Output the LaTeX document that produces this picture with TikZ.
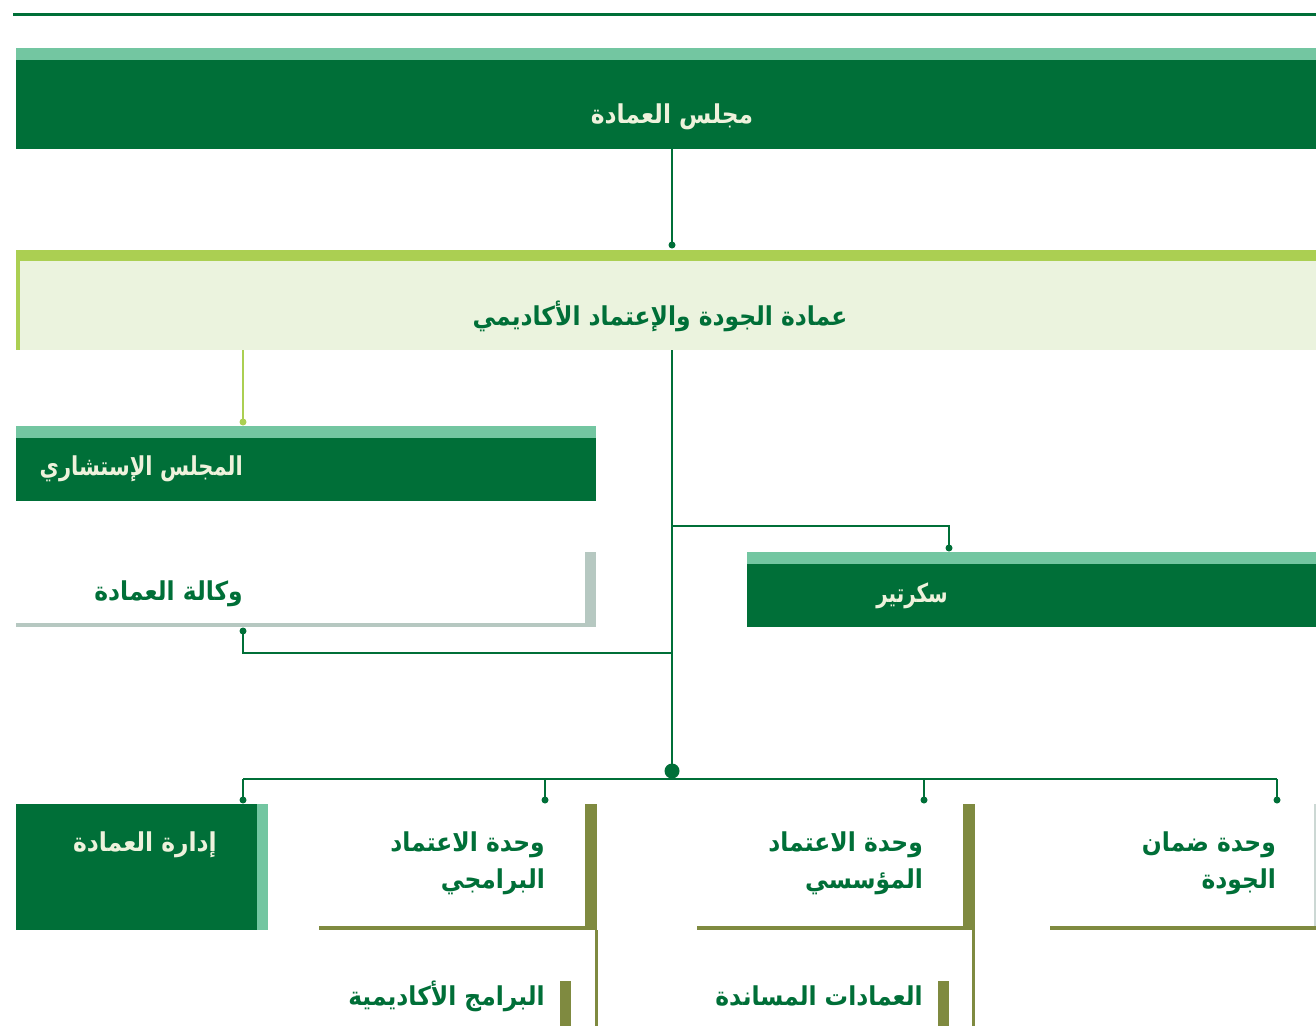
\documentclass[tikz,border=0pt]{standalone}
\usepackage{fontspec}
\usepackage{graphicx}
\TeXXeTstate=1
\newfontfamily\arabicfont[Script=Arabic, FakeStretch=0.9]{DejaVu Sans}
\definecolor{deepgreen}{HTML}{006F38}
\definecolor{mintgreen}{HTML}{73C6A1}
\definecolor{limegreen}{HTML}{ABCF52}
\definecolor{palelime}{HTML}{EBF3DE}
\definecolor{sage}{HTML}{B6C8C1}
\definecolor{olive}{HTML}{7F8A40}
\definecolor{cream}{HTML}{EEF2DC}
\tikzset{
  box/.style={anchor=north west, inner sep=0pt, outer sep=0pt, draw=none},
  darkbox/.style={box, fill=deepgreen,
    path picture={\fill[mintgreen] (path picture bounding box.north west)
      rectangle ([yshift=-12pt]path picture bounding box.north east);}},
  palebox/.style={box, fill=palelime,
    path picture={\fill[limegreen] (path picture bounding box.north west)
      rectangle ([yshift=-11pt]path picture bounding box.north east);
      \fill[limegreen] (path picture bounding box.north west)
      rectangle ([xshift=4pt]path picture bounding box.south west);}},
  lighttext/.style={text=cream, font=\arabicfont\bfseries\fontsize{26}{37}\selectfont, inner sep=0pt},
  darktext/.style={text=deepgreen, font=\arabicfont\bfseries\fontsize{26}{37}\selectfont, inner sep=0pt},
  link/.style={draw=deepgreen, line width=2pt},
  limelink/.style={draw=limegreen, line width=2pt},
  dot/.style={circle, fill=deepgreen, inner sep=0pt, minimum size=7pt},
  limedot/.style={circle, fill=limegreen, inner sep=0pt, minimum size=7pt},
}
\begin{document}
\begin{tikzpicture}[x=1pt, y=-1pt]
\useasboundingbox (0,0) rectangle (1316,1026);
\fill[white] (0,0) rectangle (1316,1026);

% top rule
\fill[deepgreen] (13,13) rectangle (1316,16);

% boxes
\node[darkbox, minimum width=1300pt, minimum height=101pt] (council) at (16,48) {};
\node[palebox, minimum width=1300pt, minimum height=100pt] (deanship) at (16,250) {};
\node[darkbox, minimum width=580pt, minimum height=75pt] (advisory) at (16,426) {};
\node[darkbox, minimum width=569pt, minimum height=75pt] (secretary) at (747,552) {};
\node[box, minimum width=580pt, minimum height=75pt] (vice) at (16,552) {};
\fill[sage] (585,552) rectangle (596,627);
\fill[sage] (16,623) rectangle (596,627);

% bottom row
\node[box, fill=deepgreen, minimum width=241pt, minimum height=126pt] (admin) at (16,804) {};
\fill[mintgreen] (257,804) rectangle (268,930);

\node[box, minimum width=278pt, minimum height=126pt] (progunit) at (319,804) {};
\fill[olive] (585,804) rectangle (597,930);
\fill[olive] (319,926) rectangle (597,930);
\fill[olive] (595,930) rectangle (597.5,1026);
\fill[olive] (560,981) rectangle (571,1026);

\node[box, minimum width=278pt, minimum height=126pt] (instunit) at (697,804) {};
\fill[olive] (963,804) rectangle (975,930);
\fill[olive] (697,926) rectangle (975,930);
\fill[olive] (972,930) rectangle (974.5,1026);
\fill[olive] (938,981) rectangle (949,1026);

\node[box, minimum width=266pt, minimum height=126pt] (qaunit) at (1050,804) {};
\fill[sage!70!white] (1314,804) rectangle (1316,930);
\fill[olive] (1050,926) rectangle (1316,930);

% labels
\node[lighttext] (tcouncil) at (672,117) {\beginR مجلس العمادة\endR};
\node[darktext] (tdeanship) at (660,316) {\beginR عمادة الجودة والإعتماد الأكاديمي\endR};
\node[lighttext, anchor=east] (tadvisory) at (243,469) {\scalebox{0.9}[1]{\beginR المجلس الإستشاري\endR}};
\node[darktext, anchor=east] (tvice) at (243,594) {\beginR وكالة العمادة\endR};
\node[lighttext, anchor=east] (tsecretary) at (948,596) {\scalebox{0.85}[1]{\beginR سكرتير\endR}};
\node[lighttext, anchor=east] (tadmin) at (217,845) {\beginR إدارة العمادة\endR};
\node[darktext, anchor=north east, align=right] (tprog) at (545,832) {\beginR وحدة الاعتماد\endR\\\beginR البرامجي\endR};
\node[darktext, anchor=north east, align=right] (tinst) at (923,832) {\beginR وحدة الاعتماد\endR\\\beginR المؤسسي\endR};
\node[darktext, anchor=north east, align=right] (tqa) at (1276,832) {\beginR وحدة ضمان\endR\\\beginR الجودة\endR};
\node[darktext, anchor=east] (tacad) at (545,996) {\beginR البرامج الأكاديمية\endR};
\node[darktext, anchor=east] (tsupport) at (923,996) {\beginR العمادات المساندة\endR};

% connection points
\coordinate (trunk) at (672,350);
\coordinate (hub) at (672,771);

% council -> deanship
\draw[link] (council.south -| trunk) -- ([yshift=5pt]deanship.north -| trunk);
\node[dot, yshift=5pt] (d1) at (deanship.north -| trunk) {};

% deanship -> advisory
\draw[limelink] (deanship.south -| 243,0) -- ([yshift=4pt]advisory.north -| 243,0);
\node[limedot, yshift=4pt] (d2) at (advisory.north -| 243,0) {};

% trunk
\draw[link] (trunk) -- (hub);
\node[dot, minimum size=15pt] (hubdot) at (hub) {};

% secretary branch
\draw[link] (672,526) -| ([yshift=4pt]secretary.north -| 949,0);
\node[dot, yshift=4pt] (d3) at (secretary.north -| 949,0) {};

% vice deanship branch
\draw[link] (672,653) -| ([yshift=-4pt]vice.south -| 243,0);
\node[dot, yshift=-4pt] (d4) at (vice.south -| 243,0) {};

% bus to bottom row
\draw[link] (243,779) -- (1277,779);
\foreach \x/\t in {243/admin, 545/progunit, 924/instunit, 1277/qaunit} {
  \draw[link] (\x,779) -- ([yshift=4pt]\t.north -| \x,0);
  \node[dot, yshift=4pt] at (\t.north -| \x,0) {};
}
\end{tikzpicture}
\end{document}
